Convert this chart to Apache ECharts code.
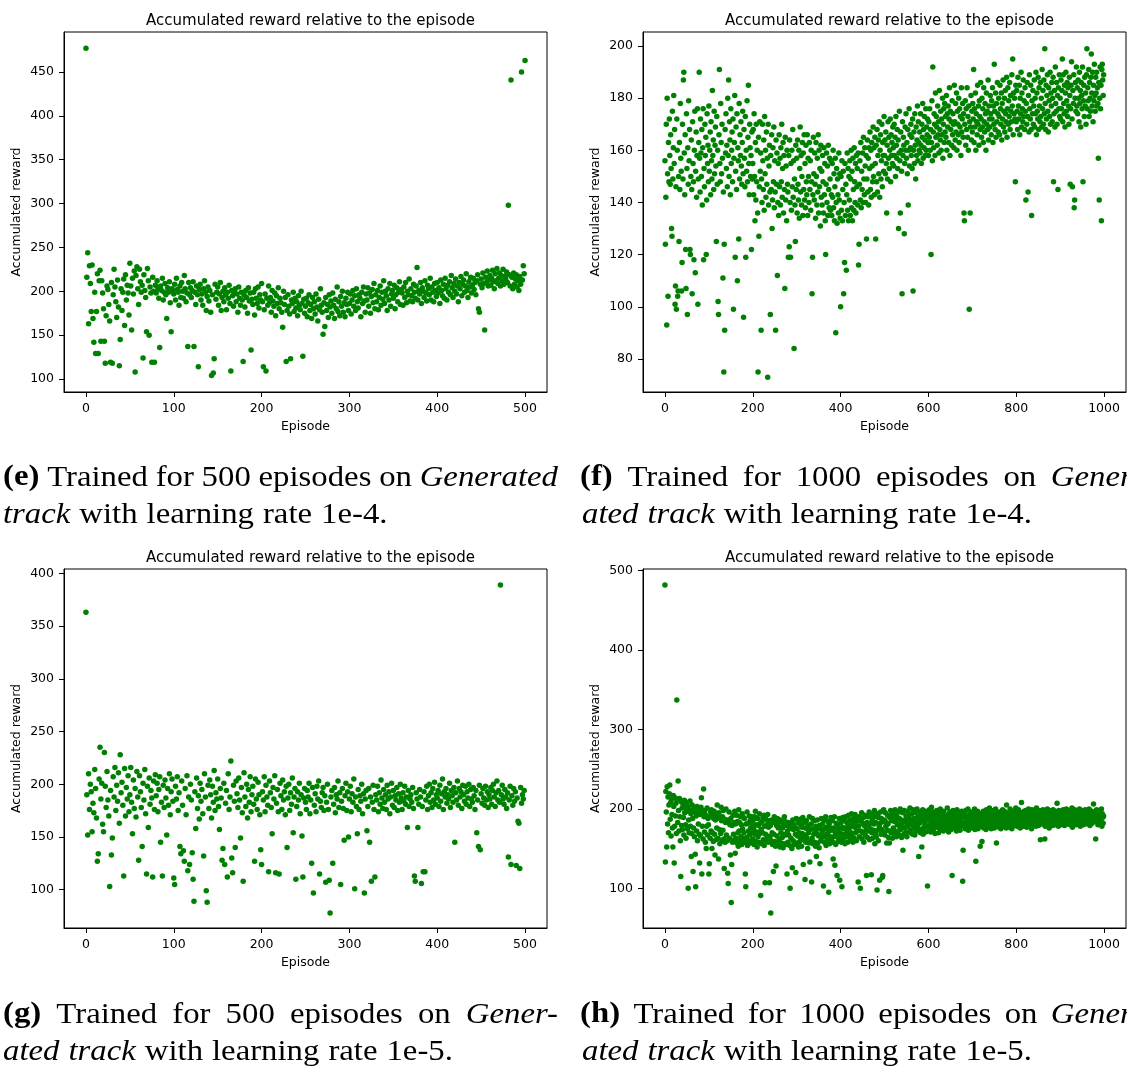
<!DOCTYPE html>
<html>
<head>
<meta charset="utf-8">
<script src="https://cdn.jsdelivr.net/npm/echarts@6/dist/echarts.min.js"></script>
<style>
html, body { margin: 0; padding: 0; background: #fff; }
#chart { width: 1127px; height: 1068px; }
</style>
</head>
<body>
<div id="chart"></div>
<script>
// Accumulated reward per episode, one value per episode (index = episode number)

// (e) 500 episodes, learning rate 1e-4
const rewardsE = [
  477,216,244,163,229,209,177,230,169,142,
  199,129,177,220,129,212,224,143,212,198,
  180,143,118,172,206,202,185,166,119,210,
  118,196,225,205,188,170,213,182,115,145,
  203,178,199,214,161,219,190,207,198,173,
  232,206,156,215,197,223,108,218,228,203,
  185,225,211,199,207,124,219,201,193,154,
  226,212,150,205,198,119,216,200,119,207,
  198,212,203,192,136,206,201,215,190,199,
  209,196,169,204,199,211,187,154,203,200,
  197,208,190,215,202,199,184,206,193,210,
  200,192,218,203,188,198,137,210,196,204,
  193,201,211,137,199,185,206,196,114,202,
  208,190,197,184,203,212,199,178,194,205,
  189,201,176,104,196,107,123,208,191,199,
  205,184,197,210,178,193,200,188,204,196,
  179,199,192,207,186,109,201,195,183,198,
  203,188,197,176,205,192,184,199,190,120,
  196,182,201,193,175,204,189,198,133,191,
  185,199,173,203,192,186,205,181,196,190,
  209,188,114,179,197,109,192,184,206,187,
  193,176,201,189,183,198,172,195,186,204,
  180,192,187,176,159,200,185,193,120,178,
  196,183,174,123,190,186,199,177,192,181,
  188,172,195,184,179,200,186,126,191,175,
  183,192,171,187,196,178,185,169,193,180,
  188,174,197,182,166,191,179,203,184,176,
  151,187,160,193,178,185,170,196,182,189,
  175,198,184,169,191,180,205,177,188,172,
  194,183,200,176,187,171,192,185,199,178,
  186,197,174,190,201,183,195,178,203,188,
  181,196,192,171,199,186,205,189,176,197,
  190,204,183,198,175,194,202,187,209,180,
  196,188,201,179,193,206,184,199,191,212,
  186,200,195,178,203,190,209,183,197,201,
  192,207,180,196,204,188,199,211,185,202,
  198,184,205,193,210,187,200,196,214,189,
  203,195,188,208,199,192,206,227,190,201,
  197,210,186,204,200,193,212,198,189,207,
  203,196,215,190,205,199,188,209,201,194,
  210,198,204,186,213,201,195,208,192,215,
  203,190,207,199,211,196,218,204,193,209,
  200,214,197,206,188,210,203,217,195,208,
  213,199,206,220,201,193,211,205,216,198,
  207,215,202,210,196,212,219,180,176,208,
  214,204,221,209,156,216,210,223,206,213,
  218,207,215,224,211,203,220,212,226,209,
  215,221,206,218,212,225,208,217,214,222,
  210,298,219,206,441,216,203,221,208,214,
  219,205,212,201,217,208,450,213,229,220,
  463
];

// (f) 1000 episodes, learning rate 1e-4
const rewardsF = [
  156,124,142,170,93,180,151,104,163,148,172,158,147,166,153,130,127,175,149,161,
  181,155,168,101,108,146,99,172,160,104,106,150,125,163,145,178,157,152,106,117,
  170,149,187,190,159,143,166,122,107,174,153,97,161,147,179,156,168,122,120,150,
  164,145,105,171,155,148,118,160,175,113,152,167,142,158,176,101,149,163,190,157,
  144,172,159,150,168,139,161,176,118,153,146,170,158,165,120,141,174,155,162,148,
  177,152,160,167,143,171,156,149,183,158,164,145,175,151,162,169,154,125,173,147,
  160,102,97,166,191,155,148,178,163,151,170,157,111,144,75,124,91,168,159,174,
  153,162,146,180,158,187,150,171,164,143,176,155,160,167,148,172,99,157,163,181,
  119,152,169,145,174,110,161,156,126,178,149,166,158,171,154,147,163,175,151,96,
  168,157,146,173,119,160,152,179,148,165,185,155,143,170,161,150,158,122,167,149,
  155,168,143,174,150,133,163,141,170,148,160,136,75,165,127,146,171,152,159,91,
  149,140,170,156,145,164,137,173,151,160,142,167,147,157,73,170,139,154,162,144,
  97,158,145,166,130,141,161,148,169,138,156,144,91,164,147,159,112,140,155,135,
  166,146,157,139,161,148,170,142,153,163,136,158,145,107,165,141,154,133,160,147,
  144,119,158,123,164,140,119,155,137,160,146,168,142,156,84,149,139,125,162,145,
  157,136,164,147,141,160,134,153,169,144,158,139,150,163,135,159,145,166,141,155,
  138,162,148,143,166,135,157,150,140,163,145,156,137,160,148,105,119,143,165,151,
  141,159,147,134,163,150,139,157,144,166,136,160,146,153,131,162,142,152,139,158,
  148,136,161,143,155,133,120,147,159,140,154,135,162,145,138,157,149,137,156,143,
  135,155,142,160,138,151,133,146,157,90,140,153,132,149,143,136,159,141,151,134,
  100,150,137,156,133,145,152,105,140,117,155,135,147,114,143,159,137,153,133,150,
  141,156,135,149,160,138,152,133,157,145,137,161,148,140,155,136,158,146,153,139,
  159,116,124,147,156,141,163,138,152,145,159,140,165,149,143,161,154,140,158,126,
  149,164,144,157,139,161,153,167,145,160,142,163,154,148,169,150,161,143,165,155,
  126,162,148,168,144,158,164,151,171,142,160,166,149,156,170,146,163,158,152,173,
  158,164,151,167,155,136,162,149,171,157,165,153,160,172,148,166,158,163,155,169,
  161,154,170,158,165,150,173,162,157,168,153,164,130,159,175,156,136,167,160,152,
  105,171,158,165,162,128,155,169,160,174,157,163,151,168,139,160,176,154,166,161,
  170,158,165,153,172,106,160,167,155,174,162,149,169,158,164,177,156,171,163,160,
  167,159,174,162,155,170,165,178,157,168,161,173,164,158,176,160,169,166,172,163,
  158,171,165,176,160,168,120,163,179,156,192,167,161,174,170,158,182,165,173,169,
  162,177,166,171,159,183,168,164,175,160,172,166,180,157,170,176,163,178,167,173,
  165,181,160,174,169,177,163,172,184,158,175,168,171,162,179,166,174,170,161,185,
  171,164,178,167,182,160,175,170,166,180,163,176,169,173,158,184,167,172,178,165,
  174,136,133,170,179,162,176,168,184,165,173,160,177,99,171,136,169,181,164,175,
  167,178,172,191,163,176,169,182,160,174,171,166,185,170,177,162,179,173,168,186,
  172,165,180,169,176,163,184,171,167,178,174,160,182,170,175,168,187,164,177,172,
  169,181,174,166,179,172,184,163,177,170,193,175,168,182,165,178,171,186,174,167,
  180,173,166,185,176,170,182,164,178,172,187,169,175,180,167,183,174,171,188,165,
  176,184,170,179,173,186,168,181,175,171,189,177,195,166,182,174,180,172,148,185,
  171,183,175,168,188,177,172,185,166,180,174,190,169,182,176,171,187,173,179,168,
  184,175,141,178,170,186,173,144,181,167,189,176,172,185,168,135,179,174,183,170,
  177,187,169,180,174,190,166,182,175,172,188,168,184,177,171,186,173,180,169,191,
  176,183,170,187,174,199,178,168,185,172,181,189,175,167,184,179,173,190,170,182,
  177,186,171,180,188,148,174,183,169,192,178,175,186,170,181,145,184,176,189,173,
  180,172,187,176,183,195,171,189,178,174,185,169,182,190,175,179,186,173,184,177,
  170,188,181,147,176,185,194,172,146,183,178,189,138,141,180,186,175,192,177,184,
  174,187,180,171,190,178,183,169,186,181,176,192,148,179,185,173,188,177,182,170,
  189,199,176,184,179,191,173,186,180,175,188,197,182,177,190,171,185,179,193,181,
  175,188,182,190,177,184,178,157,186,141,180,192,176,185,133,191,193,187,181,189
];

// (g) 500 episodes, learning rate 1e-5
const rewardsG = [
  363,190,152,210,176,200,193,155,182,173,
  214,196,168,127,134,205,235,186,201,162,
  155,230,198,178,212,185,170,103,194,133,
  149,207,188,216,175,199,184,211,163,228,
  192,202,180,113,215,170,197,186,208,174,
  190,216,183,153,204,177,196,169,212,188,
  128,208,193,178,141,201,185,214,172,115,
  198,159,206,181,194,187,112,203,176,209,
  189,201,174,195,207,145,183,113,199,178,
  204,187,152,196,180,210,171,193,205,184,
  111,105,198,186,207,175,192,141,134,203,
  180,137,127,196,171,208,118,188,124,200,
  185,135,110,89,193,158,206,177,189,167,
  201,184,195,172,132,210,188,99,88,199,
  177,204,190,168,198,183,213,175,192,186,
  205,179,157,196,187,128,139,201,124,182,
  194,112,210,176,188,222,130,116,199,184,
  140,203,191,178,206,185,149,197,173,108,
  211,188,179,200,168,195,183,207,174,190,
  198,181,127,205,186,176,202,190,171,138,
  124,193,185,207,174,199,188,180,117,203,
  192,178,153,197,186,208,116,182,195,174,
  115,201,189,176,204,185,193,171,198,140,
  187,200,175,192,181,206,154,188,196,110,
  179,193,185,201,172,190,151,112,187,196,
  183,176,194,188,201,172,185,125,197,97,
  180,191,174,198,186,203,115,184,178,192,
  197,175,189,107,183,200,176,109,78,188,
  194,125,181,197,173,190,186,203,178,192,
  105,184,196,177,147,189,201,175,193,150,
  186,198,174,191,183,205,101,188,179,153,
  195,176,189,184,200,172,191,97,186,194,
  156,179,196,145,188,108,183,199,176,112,
  190,185,198,174,192,181,204,187,177,195,
  183,190,176,199,186,193,172,188,201,180,
  194,178,189,185,197,175,191,183,200,187,
  176,192,184,198,181,188,159,194,179,186,
  190,183,197,177,113,108,192,186,159,181,
  195,188,106,179,117,193,117,185,198,176,
  189,200,183,192,178,196,185,202,181,190,
  187,194,179,199,184,191,205,176,193,188,
  196,182,190,186,201,178,194,189,183,197,
  145,192,185,203,180,196,188,193,177,199,
  190,184,198,181,193,187,200,179,195,186,
  183,197,189,176,194,154,185,141,199,138,
  191,182,196,187,180,198,185,193,178,190,
  186,197,181,194,200,188,179,192,203,185,
  194,183,389,190,199,186,181,195,188,177,
  192,131,185,198,124,189,180,196,184,193,
  123,187,165,163,120,197,182,190,186,194
];

// (h) 1000 episodes, learning rate 1e-5
const rewardsH = [
  482,133,222,196,152,228,181,215,170,205,219,230,187,208,166,212,193,176,152,217,
  203,132,178,214,191,207,169,337,211,183,235,198,172,213,190,160,115,209,179,201,
  174,206,189,167,211,195,202,180,163,208,197,175,203,100,186,170,199,210,178,194,
  140,169,205,188,121,176,200,165,196,143,102,191,172,203,160,195,181,199,168,132,
  193,166,202,214,118,178,196,162,225,190,171,198,158,192,150,178,201,167,188,180,
  118,131,190,163,196,172,199,150,170,192,159,188,197,168,142,186,161,193,176,205,
  190,163,137,195,174,156,188,169,202,185,160,190,173,198,162,125,187,158,183,200,
  167,186,160,119,106,183,196,163,180,142,188,82,130,179,158,192,168,183,161,197,
  144,181,163,192,157,184,170,153,199,172,183,160,190,165,180,155,194,175,163,189,
  170,188,158,118,102,181,164,196,154,182,172,160,191,167,185,176,157,190,170,181,
  162,186,175,155,190,168,197,159,180,171,152,188,165,179,158,194,169,182,91,174,
  156,184,170,189,161,192,154,178,107,168,187,160,180,166,193,158,177,185,107,165,
  179,69,160,186,170,155,183,121,168,190,159,185,153,128,179,166,188,157,176,183,
  162,177,152,186,170,157,184,164,176,151,181,168,190,156,184,167,155,179,118,172,
  158,183,167,177,154,100,182,163,175,150,126,186,160,174,180,155,176,168,120,188,
  157,175,166,185,152,182,170,159,187,164,180,153,177,169,189,130,161,183,167,111,
  176,158,185,164,175,150,179,170,157,190,133,174,160,181,108,163,188,156,175,168,
  185,158,172,153,178,140,169,186,157,176,166,151,179,131,175,160,188,164,170,181,
  174,103,186,158,175,165,190,154,177,168,160,184,171,95,181,156,176,165,189,162,
  173,185,158,137,176,165,190,129,170,155,182,168,116,180,159,175,163,188,110,170,
  166,183,158,102,177,189,162,175,186,168,156,190,176,165,183,171,158,178,192,167,
  176,186,161,179,170,194,165,181,158,188,184,163,177,193,170,180,160,187,172,185,
  108,178,190,165,186,100,172,184,195,162,182,170,189,158,179,192,167,181,174,116,
  183,164,190,172,180,196,161,182,175,191,117,170,187,163,193,173,181,198,156,168,
  183,165,190,98,173,194,160,189,178,110,182,196,168,188,174,114,116,184,199,170,
  186,167,195,178,183,157,173,192,181,164,96,157,189,172,198,170,185,193,163,190,
  176,193,168,184,199,172,186,165,191,180,170,196,181,167,188,177,200,174,186,164,
  179,195,148,184,168,198,176,186,170,191,183,165,197,178,189,171,192,182,201,173,
  186,170,194,180,168,199,176,188,184,167,195,177,183,172,200,179,190,184,140,174,
  182,196,170,185,191,152,175,199,168,187,192,177,181,197,171,190,178,186,103,194,
  188,176,199,180,193,171,185,202,178,190,183,174,196,181,188,169,192,179,186,198,
  177,191,183,170,195,186,179,200,174,189,182,193,176,187,172,197,184,178,191,181,
  190,175,187,201,179,193,171,186,182,196,178,189,174,192,116,185,198,180,176,188,
  183,194,177,188,172,199,185,180,191,176,187,195,173,184,190,179,197,182,109,148,
  189,178,194,182,175,198,186,191,177,184,200,173,188,180,193,176,185,196,179,190,
  181,195,176,189,184,200,174,187,134,192,179,186,197,175,190,183,188,178,153,194,
  185,179,159,191,183,197,176,188,193,180,186,174,199,184,190,177,195,182,187,201,
  178,192,184,175,198,187,181,194,179,189,176,193,185,200,182,157,188,195,180,186,
  191,177,196,183,189,175,194,186,180,199,184,190,178,197,187,181,193,176,205,185,
  188,180,195,183,191,177,200,186,182,193,175,197,189,184,192,179,196,185,190,201,
  183,194,178,191,187,199,181,196,185,176,192,188,208,180,195,186,190,178,197,184,
  192,181,198,186,177,194,189,183,200,179,191,187,196,182,193,175,199,185,190,188,
  180,197,184,192,188,178,201,186,194,182,190,179,198,187,183,161,195,189,181,193,
  186,199,182,190,195,162,178,197,184,192,187,200,181,194,189,176,198,185,191,183,
  196,184,190,179,199,187,193,182,197,186,180,195,189,207,183,192,178,198,188,194,
  185,191,180,197,188,194,182,199,186,193,179,196,190,184,200,187,181,195,189,192,
  183,198,188,180,195,190,185,201,177,194,187,192,182,199,189,184,196,180,193,188,
  197,185,191,182,200,187,178,195,189,184,198,186,192,180,196,190,183,199,187,194,
  186,193,181,198,190,184,200,188,179,195,191,185,197,182,193,189,206,184,192,187,
  195,162,188,199,184,192,180,196,187,193,183,198,190,185,200,178,194,189,182,191
];

// Tick values
const xTicks500 = [0, 100, 200, 300, 400, 500];
const xTicks1000 = [0, 200, 400, 600, 800, 1000];
const yTicksE = [100, 150, 200, 250, 300, 350, 400, 450];
const yTicksF = [80, 100, 120, 140, 160, 180, 200];
const yTicksG = [100, 150, 200, 250, 300, 350, 400];
const yTicksH = [100, 200, 300, 400, 500];

// Texts
const plotTitle = 'Accumulated reward relative to the episode';
const xAxisName = 'Episode';
const yAxisName = 'Accumulated reward';

// Caption words: [text, bold, italic]
const captionE1 = [['(e)',1,0],['Trained',0,0],['for',0,0],['500',0,0],['episodes',0,0],['on',0,0],['Generated',0,1]];
const captionE2 = [['track',0,1],['with',0,0],['learning',0,0],['rate',0,0],['1e-4.',0,0]];
const captionF1 = [['(f)',1,0],['Trained',0,0],['for',0,0],['1000',0,0],['episodes',0,0],['on',0,0],['Gener-',0,1]];
const captionF2 = [['ated',0,1],['track',0,1],['with',0,0],['learning',0,0],['rate',0,0],['1e-4.',0,0]];
const captionG1 = [['(g)',1,0],['Trained',0,0],['for',0,0],['500',0,0],['episodes',0,0],['on',0,0],['Gener-',0,1]];
const captionG2 = [['ated',0,1],['track',0,1],['with',0,0],['learning',0,0],['rate',0,0],['1e-5.',0,0]];
const captionH1 = [['(h)',1,0],['Trained',0,0],['for',0,0],['1000',0,0],['episodes',0,0],['on',0,0],['Gener-',0,1]];
const captionH2 = [['ated',0,1],['track',0,1],['with',0,0],['learning',0,0],['rate',0,0],['1e-5.',0,0]];

// ---- layout ----
const SANS = '"DejaVu Sans", sans-serif';
const SERIF_NAME = 'Liberation Serif';
const GREEN = '#008000';

const panels = [
  { values: rewardsE, grid: { left: 64,  top: 32,  width: 483, height: 360 }, x: [-25, 525],  xt: xTicks500,  y: [85.2, 495.6], yt: yTicksE },
  { values: rewardsF, grid: { left: 643, top: 32,  width: 483, height: 360 }, x: [-50, 1050], xt: xTicks1000, y: [67.3, 205.4], yt: yTicksF },
  { values: rewardsG, grid: { left: 64,  top: 569, width: 483, height: 359 }, x: [-25, 525],  xt: xTicks500,  y: [63.7, 404.1], yt: yTicksG },
  { values: rewardsH, grid: { left: 643, top: 569, width: 483, height: 359 }, x: [-50, 1050], xt: xTicks1000, y: [50.0, 502.1], yt: yTicksH }
];

// Caption typesetting: first line of each caption is justified to the column width,
// the last line uses natural word spacing.
const CAP_SIZE = 29;
const CAP_SCALE = 1.13;
const CAP_SPACE = 9;
const captionLines = [
  { words: captionE1, x0: 3,   y: 478,  width: 555 },
  { words: captionE2, x0: 3,   y: 515,  width: 0 },
  { words: captionF1, x0: 580, y: 478,  width: 563 },
  { words: captionF2, x0: 582, y: 515,  width: 0 },
  { words: captionG1, x0: 3,   y: 1015, width: 555 },
  { words: captionG2, x0: 3,   y: 1052, width: 0 },
  { words: captionH1, x0: 580, y: 1015, width: 563 },
  { words: captionH2, x0: 582, y: 1052, width: 0 }
];

const measureCtx = document.createElement('canvas').getContext('2d');
function wordFont(w) {
  return (w[2] ? 'italic ' : '') + (w[1] ? 'bold ' : '') + CAP_SIZE + 'px "' + SERIF_NAME + '"';
}
function wordWidth(w) {
  measureCtx.font = wordFont(w);
  return measureCtx.measureText(w[0]).width * CAP_SCALE;
}
function captionElements(line) {
  const widths = line.words.map(wordWidth);
  const total = widths.reduce((a, b) => a + b, 0);
  const gap = line.width ? (line.width - total) / (line.words.length - 1) : CAP_SPACE;
  let x = line.x0;
  return line.words.map((w, k) => {
    const el = {
      type: 'text',
      x: x,
      y: line.y,
      scaleX: CAP_SCALE,
      silent: true,
      style: {
        text: w[0],
        fontFamily: SERIF_NAME,
        fontSize: CAP_SIZE,
        fontWeight: w[1] ? 'bold' : 'normal',
        fontStyle: w[2] ? 'italic' : 'normal',
        fill: '#000',
        verticalAlign: 'middle'
      }
    };
    x += widths[k] + gap;
    return el;
  });
}

const labelStyle = { fontFamily: SANS, fontSize: 12.5, color: '#000' };
const plainNumber = v => String(v);

const option = {
  animation: false,
  backgroundColor: '#fff',
  title: panels.map(p => ({
    text: plotTitle,
    left: p.grid.left + p.grid.width / 2,
    top: p.grid.top - 23,
    textAlign: 'center',
    textStyle: { fontFamily: SANS, fontSize: 15, fontWeight: 'normal', color: '#000' }
  })),
  grid: panels.map(p => Object.assign({
    show: true, borderColor: '#000', borderWidth: 1, backgroundColor: 'transparent', containLabel: false
  }, p.grid)),
  xAxis: panels.map((p, i) => ({
    gridIndex: i, type: 'value', min: p.x[0], max: p.x[1],
    name: xAxisName, nameLocation: 'middle', nameGap: 28, nameTextStyle: labelStyle,
    axisLine: { show: true, onZero: false, lineStyle: { color: '#000', width: 1 } },
    axisTick: { show: true, inside: false, length: 5, customValues: p.xt, lineStyle: { color: '#000', width: 1 } },
    axisLabel: Object.assign({ customValues: p.xt, margin: 10, formatter: plainNumber }, labelStyle),
    splitLine: { show: false }
  })),
  yAxis: panels.map((p, i) => ({
    gridIndex: i, type: 'value', min: p.y[0], max: p.y[1],
    name: yAxisName, nameLocation: 'middle', nameGap: 41, nameTextStyle: labelStyle,
    axisLine: { show: true, onZero: false, lineStyle: { color: '#000', width: 1 } },
    axisTick: { show: true, inside: false, length: 5, customValues: p.yt, lineStyle: { color: '#000', width: 1 } },
    axisLabel: Object.assign({ customValues: p.yt, margin: 10, formatter: plainNumber }, labelStyle),
    splitLine: { show: false }
  })),
  series: panels.map((p, i) => ({
    type: 'scatter',
    xAxisIndex: i, yAxisIndex: i,
    symbol: 'circle', symbolSize: 5.5,
    itemStyle: { color: GREEN, opacity: 1 },
    silent: true,
    data: p.values.map((v, ep) => [ep, v])
  })),
  graphic: captionLines.flatMap(captionElements)
};

const chart = echarts.init(document.getElementById('chart'), null, { renderer: 'canvas' });
chart.setOption(option);
</script>
</body>
</html>
